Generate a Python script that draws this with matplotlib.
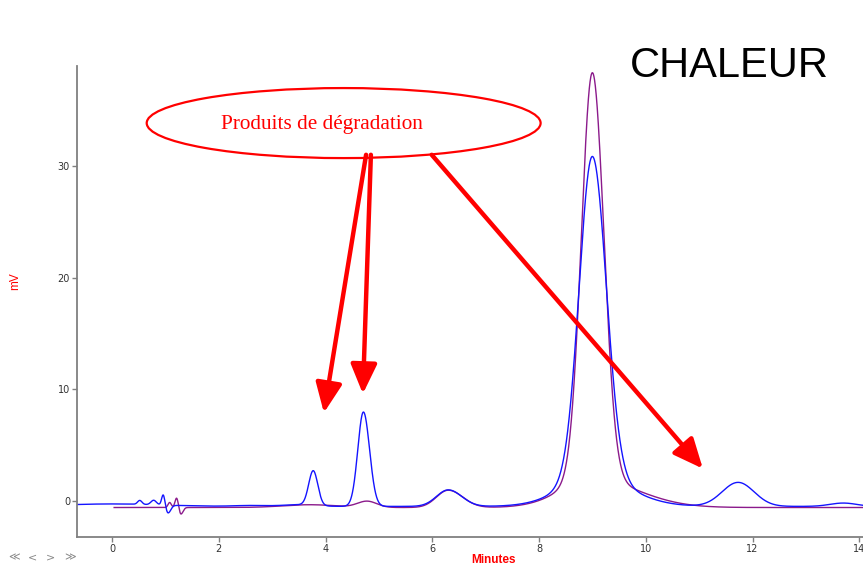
import matplotlib.pyplot as plt
from matplotlib.patches import Ellipse
import numpy as np

# peak tables: retention time (min), height (mV), left/right widths (min)
blue_base = -0.48
blue_rt = [0.0, 0.52, 0.78, 0.96, 1.05, 2.6, 3.5, 3.77, 4.71, 6.30, 8.3, 9.0, 9.0, 11.73, 13.7]
blue_h = [0.22, 0.35, 0.40, 0.95, -0.70, 0.08, 0.15, 3.1, 8.45, 1.48, 0.35, 28.7, 2.5, 2.15, 0.30]
blue_sl = [0.9, 0.04, 0.05, 0.03, 0.04, 0.3, 0.3, 0.085, 0.105, 0.22, 0.5, 0.245, 0.5, 0.30, 0.25]
blue_sr = [0.9, 0.04, 0.05, 0.03, 0.05, 0.3, 0.3, 0.085, 0.115, 0.25, 0.5, 0.26, 0.7, 0.30, 0.25]

purple_base = -0.58
purple_rt = [1.08, 1.21, 1.29, 3.7, 4.78, 6.30, 8.3, 9.0, 9.0]
purple_h = [0.45, 0.85, -0.60, 0.25, 0.55, 1.55, 0.35, 36.3, 2.5]
purple_sl = [0.03, 0.03, 0.03, 0.5, 0.18, 0.22, 0.5, 0.205, 0.5]
purple_sr = [0.03, 0.03, 0.04, 0.5, 0.18, 0.27, 0.5, 0.215, 0.85]

arrow_tails = [(4.76, 31.0), (4.85, 31.0), (5.99, 31.0)]
arrow_tips = [(3.97, 7.9), (4.70, 9.6), (11.07, 2.9)]


def trace(t, base, rt, h, sl, sr):
    y = np.full_like(t, base)
    for r, a, l, s in zip(rt, h, sl, sr):
        w = np.where(t < r, l, s)
        y += a * np.exp(-0.5 * ((t - r) / w) ** 2)
    return y


t_blue = np.linspace(-0.66, 14.1, 4000)
t_purple = np.linspace(0.04, 14.1, 4000)

fig = plt.figure(figsize=(8.63, 5.68), dpi=100)
ax = fig.add_axes([77 / 863, 31 / 568, 786 / 863, 471 / 568])

ax.plot(t_purple, trace(t_purple, purple_base, purple_rt, purple_h, purple_sl, purple_sr),
        color='#8b1a8b', lw=1.0)
ax.plot(t_blue, trace(t_blue, blue_base, blue_rt, blue_h, blue_sl, blue_sr),
        color='#1414ff', lw=1.0)

ax.set_xlim(-0.656, 14.07)
ax.set_ylim(-3.22, 38.95)
ax.set_xticks(range(0, 15, 2))
ax.set_yticks([0, 10, 20, 30])
for side in ['top', 'right']:
    ax.spines[side].set_visible(False)
for side in ['left', 'bottom']:
    ax.spines[side].set_color('#808080')
    ax.spines[side].set_linewidth(1.3)
ax.tick_params(colors='#808080', labelcolor='#333333', labelsize=7, length=3.5, width=1, pad=1.5)

# annotation: degradation products
ax.add_patch(Ellipse((4.34, 33.84), width=7.38, height=6.27, fill=False, ec='red', lw=1.6))
ax.text(3.94, 33.7, 'Produits de dégradation', family='Liberation Serif', fontsize=15.3,
        color='red', ha='center', va='center')
for tail, tip in zip(arrow_tails, arrow_tips):
    ax.annotate('', xy=tip, xytext=tail,
                arrowprops=dict(arrowstyle='-|>,head_length=0.9,head_width=0.4', color='red',
                                lw=3.2, mutation_scale=20, shrinkA=0, shrinkB=0))

fig.text(493 / 863, 1 - 560 / 568, 'Minutes', color='red', fontsize=8.5, fontweight='bold',
         family='Liberation Sans', ha='center', va='center')
fig.text(15 / 863, 1 - 281 / 568, 'mV', color='red', fontsize=8.5, family='Liberation Sans',
         rotation=90, ha='center', va='center')
fig.text(729 / 863, 1 - 77 / 568, 'CHALEUR', color='black', fontsize=30,
         family='Liberation Sans', ha='center', va='baseline')

for x, s in zip([14, 32, 50, 70], ['≪', '<', '>', '≫']):
    fig.text(x / 863, 1 - 557 / 568, s, color='#888888', fontsize=8, ha='center', va='center')

fig.savefig('out.png', dpi=100)
